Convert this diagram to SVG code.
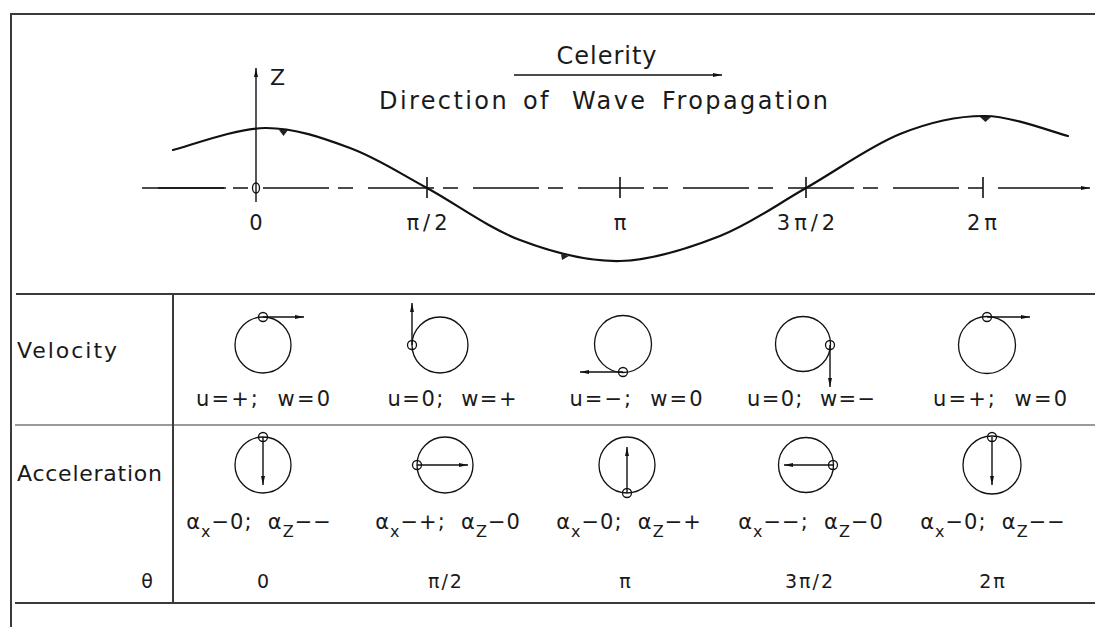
<svg xmlns="http://www.w3.org/2000/svg" width="1095" height="627" viewBox="0 0 1095 627">
<defs>
<marker id="ah" markerUnits="userSpaceOnUse" markerWidth="10" markerHeight="6" refX="9" refY="3" orient="auto">
<path d="M0,1 L9,3 L0,5 z" fill="#111"/>
</marker>
<style>
.frame{stroke:#3a3a3a;stroke-width:2;fill:none}
.grey{stroke:#9a9a9a;stroke-width:2;fill:none}
.ln{stroke:#111;stroke-width:1.6;fill:none}
.thin{stroke:#111;stroke-width:1.3;fill:none}
.wave{stroke:#111;stroke-width:2.2;fill:none;stroke-linecap:round}
.arr{stroke:#111;stroke-width:1.4;fill:none;marker-end:url(#ah)}
text{font-family:"DejaVu Sans","Liberation Sans",sans-serif;fill:#1a1a1a}
.big{font-size:24px;letter-spacing:2.4px}
.cel{font-size:24px;letter-spacing:1px;text-anchor:middle}
.ax{font-size:21px;letter-spacing:4px;text-anchor:middle}
.lbl{font-size:22px}
.cell{font-size:21px;text-anchor:middle}
.acc{font-size:21px;text-anchor:middle;letter-spacing:1px}
.th{font-size:19px;letter-spacing:2px;text-anchor:middle}
.sub{font-size:16px}
</style>
</defs>

<g id="frame">
<line class="frame" x1="11" y1="14" x2="1095" y2="14"/>
<line class="frame" x1="11" y1="13" x2="11" y2="627"/>
<line class="frame" x1="16" y1="294" x2="1095" y2="294"/>
<line class="grey" x1="15" y1="425" x2="1095" y2="425"/>
<line class="frame" x1="15" y1="603" x2="1095" y2="603"/>
<line class="frame" x1="173" y1="294" x2="173" y2="603"/>
</g>

<g id="title">
<text class="cel" x="607" y="64">Celerity</text>
<line class="arr" x1="514" y1="75" x2="722" y2="75"/>
<text class="big" y="109"><tspan x="379">Direction</tspan><tspan x="523">of</tspan><tspan x="572">Wave</tspan><tspan x="662">Fropagation</tspan></text>
</g>

<g id="axes">
<line class="ln" x1="142" y1="188" x2="226" y2="188"/>
<line class="ln" x1="158" y1="188" x2="998" y2="188" stroke-dasharray="66 9 15 15"/>
<line class="arr" x1="998" y1="188" x2="1090" y2="188"/>
<line class="arr" x1="256" y1="202" x2="256" y2="68"/>
<ellipse class="thin" cx="256" cy="188" rx="3.5" ry="5" fill="#fff"/>
<line class="ln" x1="427" y1="177" x2="427" y2="198"/>
<line class="ln" x1="620" y1="177" x2="620" y2="198"/>
<line class="ln" x1="806" y1="177" x2="806" y2="198"/>
<line class="ln" x1="983" y1="177" x2="983" y2="198"/>
<text class="lbl" x="270" y="85" font-size="21">Z</text>
<text class="ax" x="258" y="230">0</text>
<text class="ax" x="429" y="230">π/2</text>
<text class="ax" x="622" y="230">π</text>
<text class="ax" x="808" y="230">3π/2</text>
<text class="ax" x="984" y="230">2π</text>
</g>

<g id="wave">
<path class="wave" d="M173,150 C188.3,146.3 235.5,128.3 265,128 C294.5,127.7 323,138 350,148 C377,158 398.7,172.7 427,188 C455.3,203.3 487.8,227.8 520,240 C552.2,252.2 586.7,261.7 620,261 C653.3,260.3 689,248.2 720,236 C751,223.8 776,205 806,188 C836,171 870.2,146 900,134 C929.8,122 957,115.7 985,116 C1013,116.3 1054.2,132.7 1068,136"/>
<path d="M279,130 L288,130 L283.5,136 z" fill="#222"/>
<path d="M561,254 L569,256 L562,260 z" fill="#222"/>
<path d="M980,117 L991,117 L985.5,122 z" fill="#222"/>
</g>

<g id="row-labels">
<text class="lbl" x="17" y="358" textLength="100" lengthAdjust="spacing">Velocity</text>
<text class="lbl" x="17" y="481" textLength="145" lengthAdjust="spacing">Acceleration</text>
<text class="th" x="148" y="588">θ</text>
</g>

<g id="vel-0">
<circle class="thin" cx="263" cy="345" r="28"/>
<circle class="thin" cx="263" cy="317" r="4.5" fill="#fff"/>
<line class="arr" x1="263" y1="317" x2="304" y2="317"/>
<text class="cell" x="263" y="406" textLength="134" lengthAdjust="spacing">u=+;&#160; w=0</text>
</g>
<g id="vel-pi2">
<circle class="thin" cx="440" cy="345" r="28"/>
<circle class="thin" cx="412" cy="345" r="4.5" fill="#fff"/>
<line class="arr" x1="412" y1="345" x2="412" y2="303"/>
<text class="cell" x="452" y="406" textLength="129" lengthAdjust="spacing">u=0;&#160; w=+</text>
</g>
<g id="vel-pi">
<circle class="thin" cx="623" cy="344" r="28.5"/>
<circle class="thin" cx="623" cy="372" r="4.5" fill="#fff"/>
<line class="arr" x1="623" y1="372" x2="580" y2="372"/>
<text class="cell" x="636" y="406" textLength="133" lengthAdjust="spacing">u=−;&#160; w=0</text>
</g>
<g id="vel-3pi2">
<circle class="thin" cx="803" cy="344" r="27.5"/>
<circle class="thin" cx="830" cy="345" r="4.5" fill="#fff"/>
<line class="arr" x1="830" y1="345" x2="830" y2="387"/>
<text class="cell" x="811" y="406" textLength="128" lengthAdjust="spacing">u=0;&#160; w=−</text>
</g>
<g id="vel-2pi">
<circle class="thin" cx="987" cy="345" r="28.5"/>
<circle class="thin" cx="987" cy="317" r="4.5" fill="#fff"/>
<line class="arr" x1="987" y1="317" x2="1030" y2="317"/>
<text class="cell" x="1000" y="406" textLength="134" lengthAdjust="spacing">u=+;&#160; w=0</text>
</g>

<g id="acc-0">
<circle class="thin" cx="263" cy="465" r="28"/>
<circle class="thin" cx="263" cy="437" r="4.5" fill="#fff"/>
<line class="arr" x1="263" y1="437" x2="263" y2="485"/>
<text class="acc" x="259" y="529">α<tspan class="sub" dy="8">x</tspan><tspan dy="-8">−0;&#160; α</tspan><tspan class="sub" dy="8">Z</tspan><tspan dy="-8">−−</tspan></text>
</g>
<g id="acc-pi2">
<circle class="thin" cx="445" cy="465" r="28"/>
<circle class="thin" cx="417" cy="465" r="4.5" fill="#fff"/>
<line class="arr" x1="417" y1="465" x2="468" y2="465"/>
<text class="acc" x="448" y="529">α<tspan class="sub" dy="8">x</tspan><tspan dy="-8">−+;&#160; α</tspan><tspan class="sub" dy="8">Z</tspan><tspan dy="-8">−0</tspan></text>
</g>
<g id="acc-pi">
<circle class="thin" cx="627" cy="465" r="28"/>
<circle class="thin" cx="627" cy="493" r="4.5" fill="#fff"/>
<line class="arr" x1="627" y1="493" x2="627" y2="447"/>
<text class="acc" x="629" y="529">α<tspan class="sub" dy="8">x</tspan><tspan dy="-8">−0;&#160; α</tspan><tspan class="sub" dy="8">Z</tspan><tspan dy="-8">−+</tspan></text>
</g>
<g id="acc-3pi2">
<circle class="thin" cx="806" cy="465" r="27.5"/>
<circle class="thin" cx="833" cy="465" r="4.5" fill="#fff"/>
<line class="arr" x1="833" y1="465" x2="784" y2="465"/>
<text class="acc" x="811" y="529">α<tspan class="sub" dy="8">x</tspan><tspan dy="-8">−−;&#160; α</tspan><tspan class="sub" dy="8">Z</tspan><tspan dy="-8">−0</tspan></text>
</g>
<g id="acc-2pi">
<circle class="thin" cx="992" cy="465" r="29"/>
<circle class="thin" cx="992" cy="437" r="4.5" fill="#fff"/>
<line class="arr" x1="992" y1="437" x2="992" y2="485"/>
<text class="acc" x="993" y="529">α<tspan class="sub" dy="8">x</tspan><tspan dy="-8">−0;&#160; α</tspan><tspan class="sub" dy="8">Z</tspan><tspan dy="-8">−−</tspan></text>
</g>

<g id="theta-row">
<text class="th" x="264" y="588">0</text>
<text class="th" x="446" y="588">π/2</text>
<text class="th" x="626" y="588">π</text>
<text class="th" x="810" y="588">3π/2</text>
<text class="th" x="993" y="588">2π</text>
</g>
</svg>
